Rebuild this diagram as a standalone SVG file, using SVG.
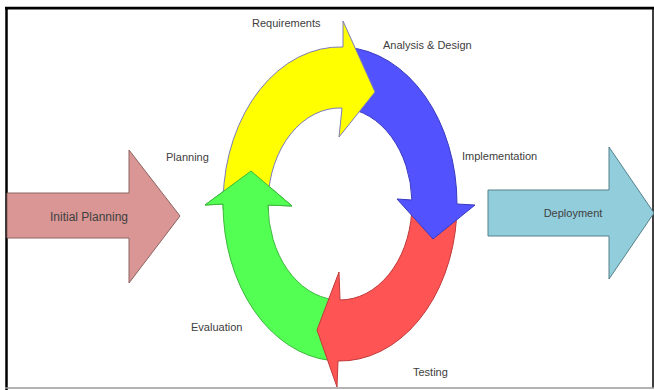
<svg xmlns="http://www.w3.org/2000/svg" width="654" height="390" viewBox="0 0 654 390">
  <style>
    text { font-family: "Liberation Sans", Arial, sans-serif; font-size: 11px; fill: #404040; }
    .lbl-big { font-size: 12px; }
    .stage { stroke-width: 1; stroke-linejoin: miter; }
    .yellow { fill: #FFFF00; stroke: #7C7CB8; }
    .blue { fill: #5252FF; stroke: #3A3AC0; }
    .red { fill: #FF5454; stroke: #C03A3A; }
    .green { fill: #52FF52; stroke: #3CB83C; }
    .side-in { fill: #D99694; stroke: #8C6563; stroke-width: 1; }
    .side-out { fill: #92CDDC; stroke: #55808A; stroke-width: 1; }
    .frame-dark { stroke: #000000; fill: none; }
  </style>
  <defs>
    <!-- four curved arrows on one ellipse ring, centre (340,204) -->
    <path id="green-arrow" class="stage green" d="M 329.8 360.4 A 117 157 0 0 1 223 204 L 205 205 L 251 171 L 292 206 L 268 205 A 72 96 0 0 0 333.7 299.6 Z"/>
    <!-- region around the green arrowhead, redrawn above the yellow tail -->
    <clipPath id="green-head-clip">
      <rect x="195" y="160" width="110" height="50"/>
    </clipPath>
  </defs>

  <rect x="0" y="0" width="654" height="390" fill="#FFFFFF"/>

  <!-- outer frame -->
  <g id="frame">
    <line class="frame-dark" x1="5" y1="8.2" x2="654" y2="8.2" stroke-width="2.8"/>
    <line class="frame-dark" x1="6.5" y1="7" x2="6.5" y2="390" stroke-width="2.5"/>
    <line class="frame-dark" x1="653" y1="7" x2="653" y2="388" stroke-width="1.5"/>
    <line x1="5" y1="388" x2="654" y2="388" stroke="#9A9A9A" stroke-width="1.5"/>
  </g>

  <!-- entry arrow -->
  <g id="initial-planning">
    <polygon class="side-in" points="7,193 129,193 129,150 180,216 129,283 129,238 7,238"/>
    <text class="lbl-big" x="89" y="221" text-anchor="middle">Initial Planning</text>
  </g>

  <!-- exit arrow -->
  <g id="deployment">
    <polygon class="side-out" points="488,190 609,190 609,147 654,213 609,279 609,236 488,236"/>
    <text x="573" y="217" text-anchor="middle">Deployment</text>
  </g>

  <!-- cycle arrows -->
  <g id="cycle">
    <g id="evaluation-arrow">
      <use href="#green-arrow"/>
    </g>
    <g id="testing-arrow">
      <path class="stage red" d="M 456.6 217.7 A 117 157 0 0 1 338 361 L 337 387 L 317 330 L 339 272 L 340 300 A 72 96 0 0 0 411.7 212.4 Z"/>
    </g>
    <g id="implementation-arrow">
      <path class="stage blue" d="M 346.1 47.2 A 117 157 0 0 1 457 204 L 475 205 L 433 239 L 397 199 L 411.9 200 A 72 96 0 0 0 343.8 108.1 Z"/>
    </g>
    <g id="requirements-arrow">
      <path class="stage yellow" d="M 223.1 198.5 A 117 157 0 0 1 343 47 L 343 21 L 375 92 L 339 137 L 342 108 A 72 96 0 0 0 268 200.6 Z"/>
    </g>
    <g id="planning-head">
      <use href="#green-arrow" clip-path="url(#green-head-clip)"/>
    </g>
  </g>

  <!-- stage labels -->
  <g id="labels">
    <text x="252" y="27">Requirements</text>
    <text x="383" y="49">Analysis &amp; Design</text>
    <text x="166" y="161">Planning</text>
    <text x="462" y="160">Implementation</text>
    <text x="191" y="331">Evaluation</text>
    <text x="413" y="376">Testing</text>
  </g>
</svg>
